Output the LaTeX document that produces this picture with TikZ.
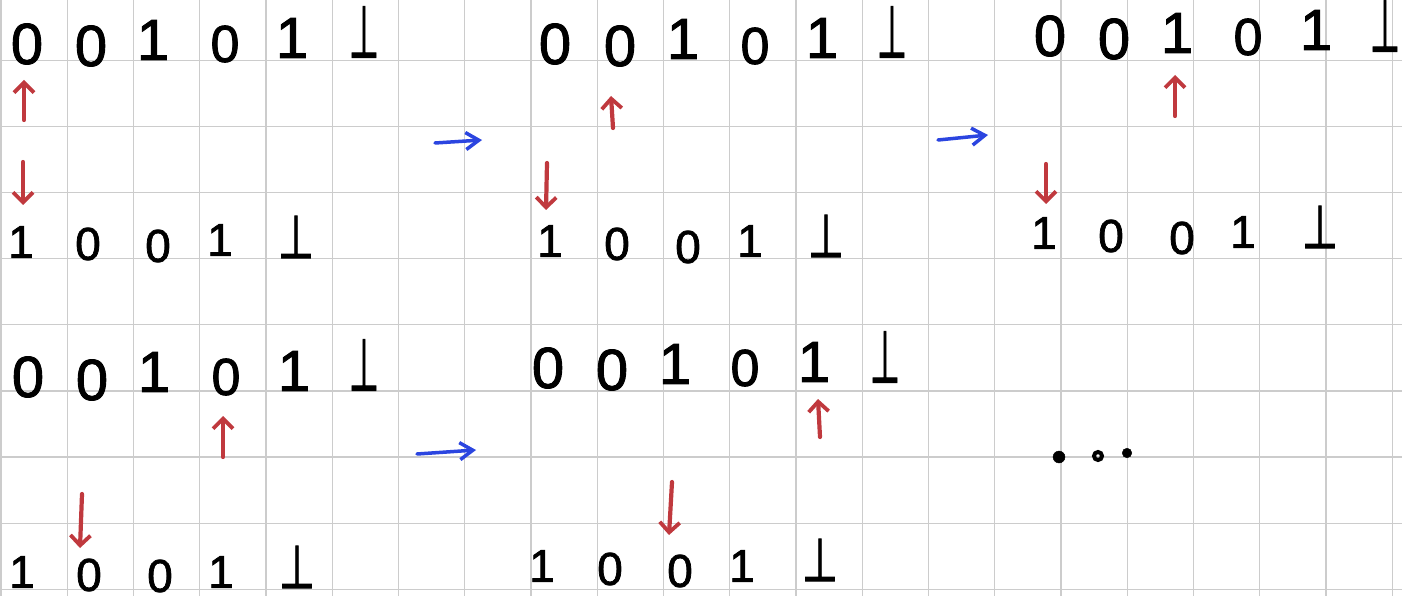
\documentclass[tikz,border=0pt]{standalone}
\usepackage{fontspec}
\usepackage{graphicx}
\setmainfont{Liberation Sans}
\newfontfamily\digfont[FakeBold=1.6]{Liberation Sans}
\newfontfamily\symfont[FakeBold=2]{DejaVu Sans}
\usetikzlibrary{arrows.meta}
\definecolor{gridgray}{RGB}{204,204,204}
\definecolor{myred}{RGB}{192,57,62}
\definecolor{myblue}{RGB}{43,69,224}
\tikzset{
  gridln/.style={draw=gridgray, line width=1.3pt},
  digA/.style={inner sep=0pt, font=\digfont\fontsize{58}{58}\selectfont},
  digAs/.style={inner sep=0pt, font=\digfont\fontsize{52}{52}\selectfont},
  digB/.style={inner sep=0pt, font=\digfont\fontsize{46}{46}\selectfont},
  botA/.style={inner sep=0pt, font=\symfont},
  botB/.style={inner sep=0pt, font=\symfont},
  redarrow/.style={draw=myred, line width=4.2pt, line cap=round,
    -{Straight Barb[length=10pt,width=20pt,line width=3.8pt]}},
  bluearrow/.style={draw=myblue, line width=3.5pt, line cap=round,
    -{Straight Barb[length=13pt,width=17pt,line width=3.5pt]}},
  dotmark/.style={fill=black, draw=black}
}
\newcommand{\botA}{\resizebox{30pt}{51pt}{⊥}}
\newcommand{\botB}{\resizebox{36pt}{42pt}{⊥}}
\begin{document}
\begin{tikzpicture}[x=1pt,y=-1pt]
\useasboundingbox (0,0) rectangle (1402,596);
\fill[white] (0,0) rectangle (1402,596);
% grid
\foreach \k in {0,...,21} {
  \draw[gridln] ({1+\k*66.25},0) -- ({1+\k*66.25},596);
}
\foreach \k in {0,...,8} {
  \draw[gridln] (0,{60.3+\k*66.13}) -- (1402,{60.3+\k*66.13});
}
% ---------- panel 1 ----------
\node[digA]  (p1a1) at (27,44) {0};
\node[digA]  (p1a2) at (91,46) {0};
\node[digA]  (p1a3) at (153,40) {1};
\node[digAs] (p1a4) at (225,44) {0};
\node[digA]  (p1a5) at (292,38) {1};
\node[botA]  (p1a6) at (364,32) {\botA};
\node[digB]  (p1b1) at (21,242) {1};
\node[digB]  (p1b2) at (88,244) {0};
\node[digB]  (p1b3) at (158,246) {0};
\node[digB]  (p1b4) at (220,240) {1};
\node[botB]  (p1b5) at (296,237) {\botB};
\coordinate (p1u0) at (24,120); \coordinate (p1u1) at (24,80);
\coordinate (p1d0) at (23,162); \coordinate (p1d1) at (23,205);
\draw[redarrow] (p1u0) -- (p1u1);
\draw[redarrow] (p1d0) -- (p1d1);
\coordinate (b1s) at (435,143); \coordinate (b1e) at (482,140);
\draw[bluearrow] (b1s) -- (b1e);
% ---------- panel 2 ----------
\node[digA]  (p2a1) at (555,44) {0};
\node[digA]  (p2a2) at (620,46) {0};
\node[digA]  (p2a3) at (683,39) {1};
\node[digAs] (p2a4) at (755,46) {0};
\node[digA]  (p2a5) at (822,38) {1};
\node[botA]  (p2a6) at (892,32) {\botA};
\node[digB]  (p2b1) at (550,241) {1};
\node[digB]  (p2b2) at (617,244) {0};
\node[digB]  (p2b3) at (688,247) {0};
\node[digB]  (p2b4) at (750,241) {1};
\node[botB]  (p2b5) at (826,236) {\botB};
\coordinate (p2u0) at (613,128); \coordinate (p2u1) at (611,96);
\coordinate (p2d0) at (547,163); \coordinate (p2d1) at (546,210);
\draw[redarrow] (p2u0) -- (p2u1);
\draw[redarrow] (p2d0) -- (p2d1);
\coordinate (b2s) at (938,140); \coordinate (b2e) at (988,135);
\draw[bluearrow] (b2s) -- (b2e);
% ---------- panel 3 ----------
\node[digA]  (p3a1) at (1050,36) {0};
\node[digA]  (p3a2) at (1114,39) {0};
\node[digA]  (p3a3) at (1177,33) {1};
\node[digAs] (p3a4) at (1248,37) {0};
\node[digA]  (p3a5) at (1316,30) {1};
\node[botA]  (p3a6) at (1385,26) {\botA};
\node[digB]  (p3b1) at (1044,233) {1};
\node[digB]  (p3b2) at (1111,236) {0};
\node[digB]  (p3b3) at (1182,238) {0};
\node[digB]  (p3b4) at (1243,232) {1};
\node[botB]  (p3b5) at (1320,227) {\botB};
\coordinate (p3u0) at (1175,116); \coordinate (p3u1) at (1175,75);
\coordinate (p3d0) at (1046,164); \coordinate (p3d1) at (1046,204);
\draw[redarrow] (p3u0) -- (p3u1);
\draw[redarrow] (p3d0) -- (p3d1);
% ---------- panel 4 ----------
\node[digA]  (p4a1) at (28,377) {0};
\node[digA]  (p4a2) at (92,380) {0};
\node[digA]  (p4a3) at (154,372) {1};
\node[digAs] (p4a4) at (226,377) {0};
\node[digA]  (p4a5) at (294,371) {1};
\node[botA]  (p4a6) at (364,365) {\botA};
\node[digB]  (p4b1) at (22,572) {1};
\node[digB]  (p4b2) at (89,575) {0};
\node[digB]  (p4b3) at (160,576) {0};
\node[digB]  (p4b4) at (221,572) {1};
\node[botB]  (p4b5) at (297,567) {\botB};
\coordinate (p4u0) at (223,457); \coordinate (p4u1) at (223,416);
\coordinate (p4d0) at (82,494); \coordinate (p4d1) at (80,548);
\draw[redarrow] (p4u0) -- (p4u1);
\draw[redarrow] (p4d0) -- (p4d1);
\coordinate (b4s) at (417,454); \coordinate (b4e) at (476,450);
\draw[bluearrow] (b4s) -- (b4e);
% ---------- panel 5 ----------
\node[digA]  (p5a1) at (548,368) {0};
\node[digA]  (p5a2) at (612,370) {0};
\node[digA]  (p5a3) at (675,364) {1};
\node[digAs] (p5a4) at (745,368) {0};
\node[digA]  (p5a5) at (814,362) {1};
\node[botA]  (p5a6) at (885,357) {\botA};
\node[digB]  (p5b1) at (542,566) {1};
\node[digB]  (p5b2) at (610,569) {0};
\node[digB]  (p5b3) at (680,571) {0};
\node[digB]  (p5b4) at (742,566) {1};
\node[botB]  (p5b5) at (820,560) {\botB};
\coordinate (p5u0) at (820,437); \coordinate (p5u1) at (818,399);
\coordinate (p5d0) at (672,482); \coordinate (p5d1) at (669,535);
\draw[redarrow] (p5u0) -- (p5u1);
\draw[redarrow] (p5d0) -- (p5d1);
% ---------- panel 6: ellipsis ----------
\fill[dotmark] (1059,457) circle (6);
\draw[black, line width=4pt] (1098,456) circle (4);
\fill[dotmark] (1127,453) circle (4.8);
\end{tikzpicture}
\end{document}
